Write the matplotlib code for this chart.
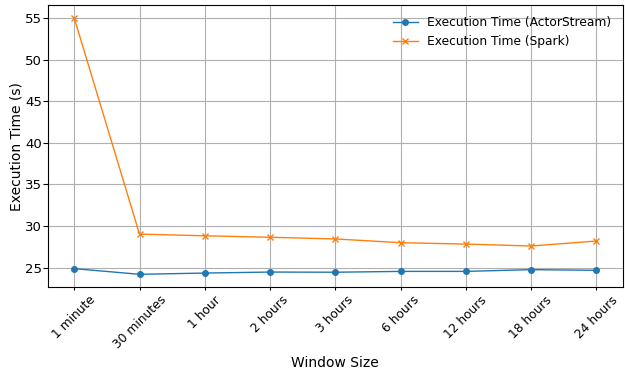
import matplotlib
matplotlib.use("Agg")
import matplotlib.pyplot as plt

window_sizes = ["1 minute", "30 minutes", "1 hour", "2 hours", "3 hours",
                "6 hours", "12 hours", "18 hours", "24 hours"]
actorstream_time = [24.88, 24.2, 24.35, 24.47, 24.45, 24.55, 24.55, 24.76, 24.68]
spark_time = [55.0, 29.03, 28.83, 28.65, 28.45, 28.0, 27.83, 27.6, 28.2]

fig, ax = plt.subplots(figsize=(6.25, 3.7), dpi=100)
ax.plot(window_sizes, actorstream_time, marker="o", markersize=4,
        linewidth=1, label="Execution Time (ActorStream)")
ax.plot(window_sizes, spark_time, marker="x", markersize=4,
        linewidth=1, label="Execution Time (Spark)")

ax.set_xlabel("Window Size", fontsize=10, labelpad=3)
ax.set_ylabel("Execution Time (s)", fontsize=10, labelpad=1)
ax.grid(True)
ax.legend(frameon=False, fontsize=8.8)
ax.tick_params(axis="x", labelsize=8.8, length=2.5, pad=2, labelrotation=45)
ax.tick_params(axis="y", labelsize=9.5, length=3.5, pad=1)
fig.subplots_adjust(left=0.077, right=0.996, top=0.986, bottom=0.224)
plt.savefig("out.png")
